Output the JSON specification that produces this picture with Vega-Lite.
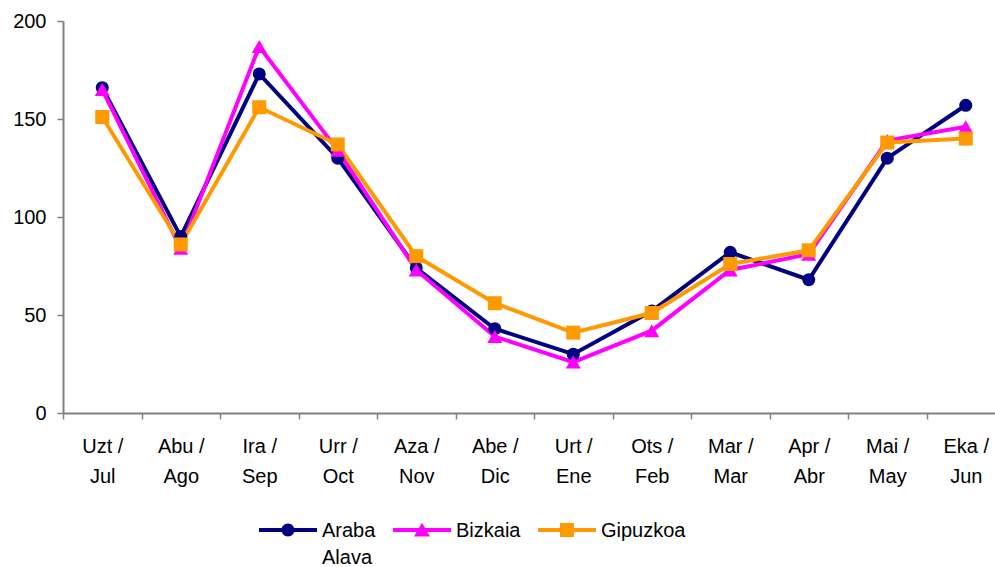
{
  "$schema": "https://vega.github.io/schema/vega-lite/v6.json",
  "width": 942,
  "height": 392,
  "autosize": {"type": "none"},
  "padding": {"left": 63, "top": 21, "right": 0, "bottom": 154},
  "background": "white",
  "config": {
    "view": {"stroke": null},
    "font": "Liberation Sans",
    "axis": {
      "domainColor": "#808080",
      "tickColor": "#808080",
      "domainWidth": 2,
      "tickWidth": 1.5,
      "labelColor": "#000000",
      "labelFont": "Liberation Sans",
      "labelFontSize": 20,
      "grid": false,
      "title": null
    },
    "legend": {"labelFont": "Liberation Sans"}
  },
  "data": {
    "values": [
      {"month": "Uzt / Jul", "series": "Araba / Alava", "value": 166},
      {"month": "Abu / Ago", "series": "Araba / Alava", "value": 90},
      {"month": "Ira / Sep", "series": "Araba / Alava", "value": 173},
      {"month": "Urr / Oct", "series": "Araba / Alava", "value": 130},
      {"month": "Aza / Nov", "series": "Araba / Alava", "value": 74},
      {"month": "Abe / Dic", "series": "Araba / Alava", "value": 43},
      {"month": "Urt / Ene", "series": "Araba / Alava", "value": 30},
      {"month": "Ots / Feb", "series": "Araba / Alava", "value": 52},
      {"month": "Mar / Mar", "series": "Araba / Alava", "value": 82},
      {"month": "Apr / Abr", "series": "Araba / Alava", "value": 68},
      {"month": "Mai / May", "series": "Araba / Alava", "value": 130},
      {"month": "Eka / Jun", "series": "Araba / Alava", "value": 157},
      {"month": "Uzt / Jul", "series": "Bizkaia", "value": 165},
      {"month": "Abu / Ago", "series": "Bizkaia", "value": 84},
      {"month": "Ira / Sep", "series": "Bizkaia", "value": 187},
      {"month": "Urr / Oct", "series": "Bizkaia", "value": 134},
      {"month": "Aza / Nov", "series": "Bizkaia", "value": 73},
      {"month": "Abe / Dic", "series": "Bizkaia", "value": 39},
      {"month": "Urt / Ene", "series": "Bizkaia", "value": 26},
      {"month": "Ots / Feb", "series": "Bizkaia", "value": 42},
      {"month": "Mar / Mar", "series": "Bizkaia", "value": 73},
      {"month": "Apr / Abr", "series": "Bizkaia", "value": 81},
      {"month": "Mai / May", "series": "Bizkaia", "value": 139},
      {"month": "Eka / Jun", "series": "Bizkaia", "value": 146},
      {"month": "Uzt / Jul", "series": "Gipuzkoa", "value": 151},
      {"month": "Abu / Ago", "series": "Gipuzkoa", "value": 86},
      {"month": "Ira / Sep", "series": "Gipuzkoa", "value": 156},
      {"month": "Urr / Oct", "series": "Gipuzkoa", "value": 137},
      {"month": "Aza / Nov", "series": "Gipuzkoa", "value": 80},
      {"month": "Abe / Dic", "series": "Gipuzkoa", "value": 56},
      {"month": "Urt / Ene", "series": "Gipuzkoa", "value": 41},
      {"month": "Ots / Feb", "series": "Gipuzkoa", "value": 51},
      {"month": "Mar / Mar", "series": "Gipuzkoa", "value": 76},
      {"month": "Apr / Abr", "series": "Gipuzkoa", "value": 83},
      {"month": "Mai / May", "series": "Gipuzkoa", "value": 138},
      {"month": "Eka / Jun", "series": "Gipuzkoa", "value": 140}
    ]
  },
  "encoding": {
    "x": {
      "field": "month",
      "type": "ordinal",
      "sort": null,
      "scale": {"type": "point", "padding": 0.5},
      "axis": {
        "labelAngle": 0,
        "labelExpr": "[split(datum.label, ' / ')[0] + ' /', split(datum.label, ' / ')[1]]",
        "labelBaseline": "top",
        "labelLineHeight": 30,
        "labelPadding": 17,
        "tickSize": 6,
        "tickOffset": -39.25,
        "labelOffset": 39.25,
        "labelOverlap": false,
        "labelBound": false,
        "labelFlush": false
      }
    },
    "y": {
      "field": "value",
      "type": "quantitative",
      "scale": {"domain": [0, 200], "nice": false, "zero": true},
      "axis": {
        "values": [0, 50, 100, 150, 200],
        "tickSize": 6,
        "labelPadding": 11
      }
    },
    "color": {
      "field": "series",
      "type": "nominal",
      "scale": {
        "domain": ["Araba / Alava", "Bizkaia", "Gipuzkoa"],
        "range": ["#000080", "#FF00FF", "#FF9900"]
      },
      "legend": {
        "title": null,
        "orient": "none",
        "legendX": 196,
        "legendY": 480,
        "direction": "horizontal",
        "columns": 3,
        "padding": 0,
        "columnPadding": 17,
        "rowPadding": 0,
        "labelOffset": 5,
        "labelFontSize": 20,
        "labelColor": "#000000",
        "labelBaseline": "top",
        "labelLimit": 0,
        "symbolSize": 3364,
        "labelExpr": "datum.label === 'Araba / Alava' ? ['Araba', 'Alava'] : [datum.label, ' ']",
        "encode": {
          "symbols": {
            "update": {
              "shape": {"signal": "datum.value === 'Araba / Alava' ? 'M-1,-0.069H1V0.069H-1Z M-0.224,0A0.224,0.224,0,1,1,0.224,0A0.224,0.224,0,1,1,-0.224,0Z' : datum.value === 'Bizkaia' ? 'M-1,-0.069H1V0.069H-1Z M0,-0.25L0.276,0.22L-0.276,0.22Z' : 'M-1,-0.069H1V0.069H-1Z M-0.241,-0.241H0.241V0.241H-0.241Z'"},
              "fill": {"scale": "color", "field": "value"},
              "strokeWidth": {"value": 0},
              "size": {"value": 3364},
              "opacity": {"value": 1}
            }
          },
          "labels": {
            "update": {
              "lineHeight": {"value": 27},
              "baseline": {"value": "top"},
              "dy": {"value": -9}
            }
          }
        }
      }
    }
  },
  "layer": [
    {"mark": {"type": "line", "strokeWidth": 4}},
    {
      "mark": {"type": "point", "filled": true, "opacity": 1, "strokeWidth": 0},
      "encoding": {
        "shape": {
          "condition": [
            {"test": "datum.series === 'Bizkaia'", "value": "triangle-up"},
            {"test": "datum.series === 'Gipuzkoa'", "value": "square"}
          ],
          "value": "circle"
        },
        "size": {
          "condition": [
            {"test": "datum.series === 'Bizkaia'", "value": 225},
            {"test": "datum.series === 'Gipuzkoa'", "value": 196}
          ],
          "value": 169
        }
      }
    }
  ]
}
